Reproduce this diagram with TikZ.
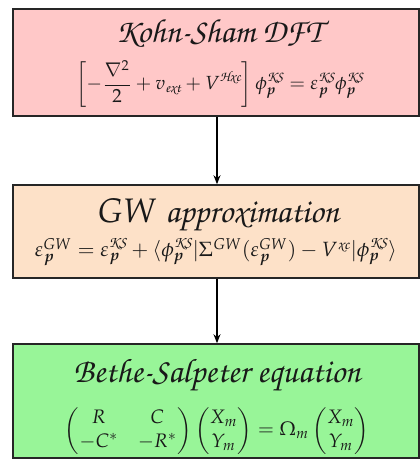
\documentclass[tikz,border=0pt]{standalone}
\usepackage[T1]{fontenc}
\usepackage{amsmath,amssymb}
\usepackage{mathpazo}
\usepackage{graphicx}
\usetikzlibrary{arrows.meta}
\newcommand\chanc{\fontencoding{T1}\fontfamily{pzc}\fontseries{mb}\fontshape{it}\selectfont}
\newcommand\KSsup{\text{\chanc KS}}
\definecolor{boxpink}{RGB}{255,200,200}
\definecolor{boxpeach}{RGB}{253,225,200}
\definecolor{boxgreen}{RGB}{152,245,152}
\tikzset{
  stagebox/.style={draw=black!85, line width=1.6pt, minimum width=406pt, inner sep=0pt},
  flowarrow/.style={line width=1.3pt, -{Stealth[length=9pt,width=7pt]}},
  lbl/.style={inner sep=0pt, text=black!90}
}
\begin{document}
\begin{tikzpicture}[x=1pt,y=-1pt]
\useasboundingbox (0,0) rectangle (420,459);
\node[stagebox, fill=boxpink, minimum height=107pt] (ks) at (216,62.5) {};
\node[stagebox, fill=boxpeach, minimum height=93pt] (gw) at (216,231.5) {};
\node[stagebox, fill=boxgreen, minimum height=114pt] (bse) at (216,401) {};
\node[lbl, anchor=base] (t1) at (219,42) {\resizebox{206pt}{!}{\chanc Kohn-Sham DFT}};
\node[lbl] (e1) at (220,84) {\resizebox{288pt}{!}{$\displaystyle\left[-\frac{\nabla^2}{2}+v_{\text{\chanc ext}}+V^{\text{\chanc Hxc}}\right]\phi_{\boldsymbol{p}}^{\KSsup}=\varepsilon_{\boldsymbol{p}}^{\KSsup}\phi_{\boldsymbol{p}}^{\KSsup}$}};
\node[lbl, anchor=base] (t2) at (218,222) {\resizebox{242pt}{!}{$GW$\ {\chanc approximation}}};
\node[lbl] (e2) at (216,252) {\resizebox{362pt}{!}{$\varepsilon_{\boldsymbol{p}}^{GW}=\varepsilon_{\boldsymbol{p}}^{\KSsup}+\langle\phi_{\boldsymbol{p}}^{\KSsup}|\Sigma^{GW}(\varepsilon_{\boldsymbol{p}}^{GW})-V^{\text{\chanc xc}}|\phi_{\boldsymbol{p}}^{\KSsup}\rangle$}};
\node[lbl, anchor=base] (t3) at (217,382) {\resizebox{287pt}{!}{\chanc Bethe-Salpeter equation}};
\node[lbl] (e3) at (217,431) {\resizebox{305pt}{!}{$\begin{pmatrix}R & C\\ -C^{*} & -R^{*}\end{pmatrix}\begin{pmatrix}X_m\\ Y_m\end{pmatrix}=\Omega_m\begin{pmatrix}X_m\\ Y_m\end{pmatrix}$}};
\draw[flowarrow] ([xshift=1pt]ks.south) -- ([xshift=1pt]gw.north);
\draw[flowarrow] ([xshift=1pt]gw.south) -- ([xshift=1pt]bse.north);
\end{tikzpicture}
\end{document}
